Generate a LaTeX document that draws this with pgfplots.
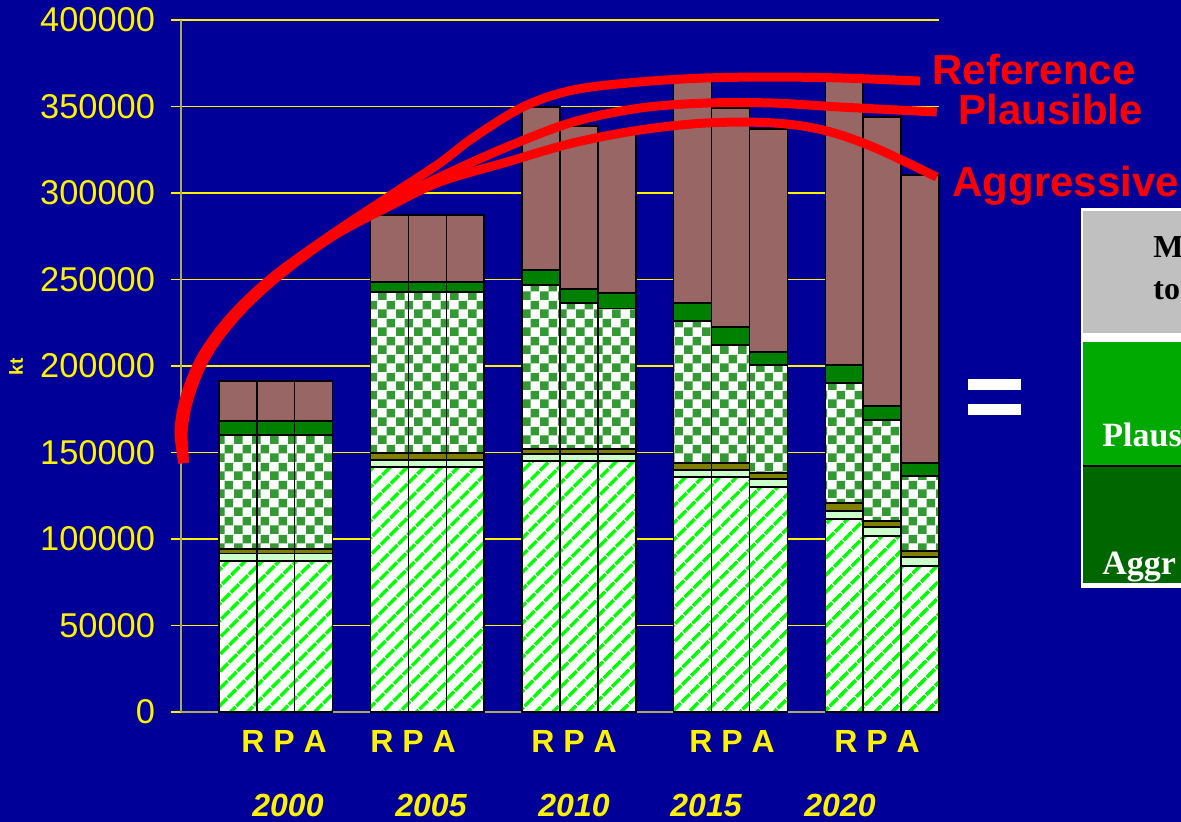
\documentclass[border=0pt]{standalone}
\usepackage{pgfplots}
\pgfplotsset{compat=1.18}
\usepackage{pgfplotstable}
\usepackage{fontspec}
\setmainfont{Liberation Sans}
\newfontfamily\serifb{Liberation Serif}
\usetikzlibrary{patterns,patterns.meta}

\definecolor{bgblue}{RGB}{0,0,153}
\definecolor{hatgreen}{RGB}{0,255,0}
\definecolor{mint}{RGB}{204,255,204}
\definecolor{olive2}{RGB}{128,128,0}
\definecolor{chkgreen}{RGB}{51,153,51}
\definecolor{dkgreen}{RGB}{0,128,0}
\definecolor{brown2}{RGB}{153,102,102}
\definecolor{axisc}{RGB}{170,170,90}
\definecolor{boxgray}{RGB}{192,192,192}
\definecolor{boxgreen}{RGB}{0,170,0}
\definecolor{boxdark}{RGB}{0,102,0}

% checkerboard
\pgfdeclarepatternformonly{chk}{\pgfpointorigin}{\pgfpoint{9pt}{9pt}}{\pgfpoint{9pt}{9pt}}{%
  \pgfpathrectangle{\pgfpointorigin}{\pgfpoint{4.5pt}{4.5pt}}%
  \pgfpathrectangle{\pgfpoint{4.5pt}{4.5pt}}{\pgfpoint{4.5pt}{4.5pt}}%
  \pgfusepath{fill}}

% bars: R P A for each year, one gap slot between years
\pgfplotstableread{
x  hat    mint olive chk   dkg   brn
0  87300  4300 2600  65900 8100  23100
1  87300  4300 2600  65900 8100  23100
2  87300  4300 2600  65900 8100  23100
4  141600 4100 4000  93100 5800  38700
5  141600 4100 4000  93100 5800  38700
6  141600 4100 4000  93100 5800  38700
8  145100 4000 2900  94800 8700  94200
9  145100 4000 2900  84400 8100  94200
10 145100 4000 2900  81100 9100  92500
12 135800 4100 4000  82100 10400 128600
13 135800 4100 4000  68200 10400 126500
14 130100 4600 3400  62500 7500  128900
16 111600 4600 4600  69400 10400 164400
17 101700 5200 3500  58400 8100  167000
18 84400  5200 3500  43300 7500  166500
}\bars

\pgfplotsset{
  frame/.style={at={(90.5pt,55pt)}, anchor=south west,
    scale only axis, width=379pt, height=346pt,
    xmin=-1.5, xmax=18.5, ymin=0, ymax=400000},
  barline/.style={draw=black, line width=0.75pt},
  curve/.style={red, line width=4.5pt, smooth, tension=0.55, mark=none},
}

\begin{document}
\begin{tikzpicture}
\path[use as bounding box] (0,0) rectangle (590.5pt,411pt);
\clip (0,0) rectangle (590.5pt,411pt);
\fill[bgblue] (0,0) rectangle (590.5pt,411pt);

\begin{axis}[
  frame,
  ybar stacked, bar width=1,
  axis x line*=bottom, axis y line*=left,
  axis line style={-, axisc, line width=0.8pt},
  xtick=\empty,
  ytick distance=50000,
  ymajorgrids, grid style={yellow, line width=0.7pt},
  tick align=outside, major tick length=5pt,
  ytick style={yellow, line width=0.7pt},
  scaled y ticks=false,
  /pgf/number format/assume math mode=true,
  yticklabel style={yellow, font=\fontsize{17.2}{19}\selectfont, xshift=-4.5pt,
    /pgf/number format/fixed, /pgf/number format/1000 sep={}},
  clip=false,
]
\addplot[barline, preaction={fill=white},
  pattern={Lines[angle=45,distance=6.4pt,line width=2.1pt]}, pattern color=hatgreen]
  table[x=x,y=hat]{\bars};
\addplot[barline, fill=mint] table[x=x,y=mint]{\bars};
\addplot[barline, fill=olive2] table[x=x,y=olive]{\bars};
\addplot[barline, preaction={fill=white}, pattern=chk, pattern color=chkgreen]
  table[x=x,y=chk]{\bars};
\addplot[barline, fill=dkgreen] table[x=x,y=dkg]{\bars};
\addplot[barline, fill=brown2] table[x=x,y=brn]{\bars};
\end{axis}

% hand-drawn scenario curves
\begin{axis}[frame, hide axis, clip=false]
\addplot[curve] coordinates {
  (-1.45,143900) (-1.55,163000) (-1.38,183200) (-0.93,206400) (-0.14,229500)
  (0.92,251400) (2.38,274600) (4.01,298300) (5.33,317300) (6.20,331800)
  (7.52,349700) (8.84,359500) (10.61,364200) (12.38,366500) (14.12,367000)
  (15.88,366500) (18.00,364700)};
\addplot[curve] coordinates {
  (-1.45,143900) (-1.50,163000) (-1.32,183200) (-0.87,206400) (-0.08,229500)
  (0.98,251400) (2.43,274600) (4.01,294800) (5.33,309200) (7.10,326600)
  (8.84,341000) (10.61,349100) (12.38,352000) (14.12,352000) (15.88,349700)
  (18.44,346800)};
\addplot[curve] coordinates {
  (-1.40,143900) (-1.44,163000) (-1.26,183200) (-0.81,206400) (-0.02,229500)
  (1.04,251400) (2.48,274600) (4.01,292500) (5.33,306400) (7.10,317900)
  (8.84,328900) (10.61,336400) (12.38,340500) (14.12,340500) (15.44,336400)
  (16.76,326600) (18.44,309200)};
\end{axis}

\begin{scope}[every node/.style={inner sep=0pt}]
\node[rotate=90, yellow, font=\bfseries\fontsize{9.5}{10}\selectfont] at (8pt,227.5pt) {kt};

\node[anchor=base west, red, font=\bfseries\fontsize{21}{24}\selectfont] at (466pt,368.5pt) {Reference};
\node[anchor=base west, red, font=\bfseries\fontsize{21}{24}\selectfont] at (479pt,348.5pt) {Plausible};
\node[anchor=base west, red, font=\bfseries\fontsize{21}{24}\selectfont] at (476pt,312.5pt) {Aggressive};

\foreach \xx in {120.5,185,265.5,344.5,417}
  \node[anchor=base west, yellow, font=\bfseries\fontsize{16}{18}\selectfont] at (\xx pt,34.5pt) {R P A};
\foreach \xx/\yr in {144/2000,215.5/2005,287/2010,353/2015,420/2020}
  \node[anchor=base, yellow, font=\bfseries\itshape\fontsize{16}{18}\selectfont] at (\xx pt,2.5pt) {\yr};

% equals sign
\fill[white] (484pt,216pt) rectangle (510.5pt,221.5pt);
\fill[white] (484pt,203.5pt) rectangle (510.5pt,209pt);

% legend table at the right edge
\fill[white] (540.5pt,117pt) rectangle (600pt,307pt);
\fill[boxgray] (541.5pt,244.5pt) rectangle (600pt,305.5pt);
\fill[boxgreen] (541.5pt,178.5pt) rectangle (600pt,240pt);
\fill[black] (541.5pt,177.5pt) rectangle (600pt,178.5pt);
\fill[boxdark] (541.5pt,119.5pt) rectangle (600pt,177.5pt);
\node[anchor=base west, black, font=\serifb\bfseries\fontsize{16}{18}\selectfont] at (576.5pt,282pt) {M};
\node[anchor=base west, black, font=\serifb\bfseries\fontsize{16}{18}\selectfont] at (576.5pt,261pt) {to};
\node[anchor=base west, white, font=\serifb\bfseries\fontsize{17}{19}\selectfont] at (551pt,187.5pt) {Plaus};
\node[anchor=base west, white, font=\serifb\bfseries\fontsize{17}{19}\selectfont] at (551pt,123.5pt) {Aggr};
\end{scope}
\end{tikzpicture}
\end{document}
